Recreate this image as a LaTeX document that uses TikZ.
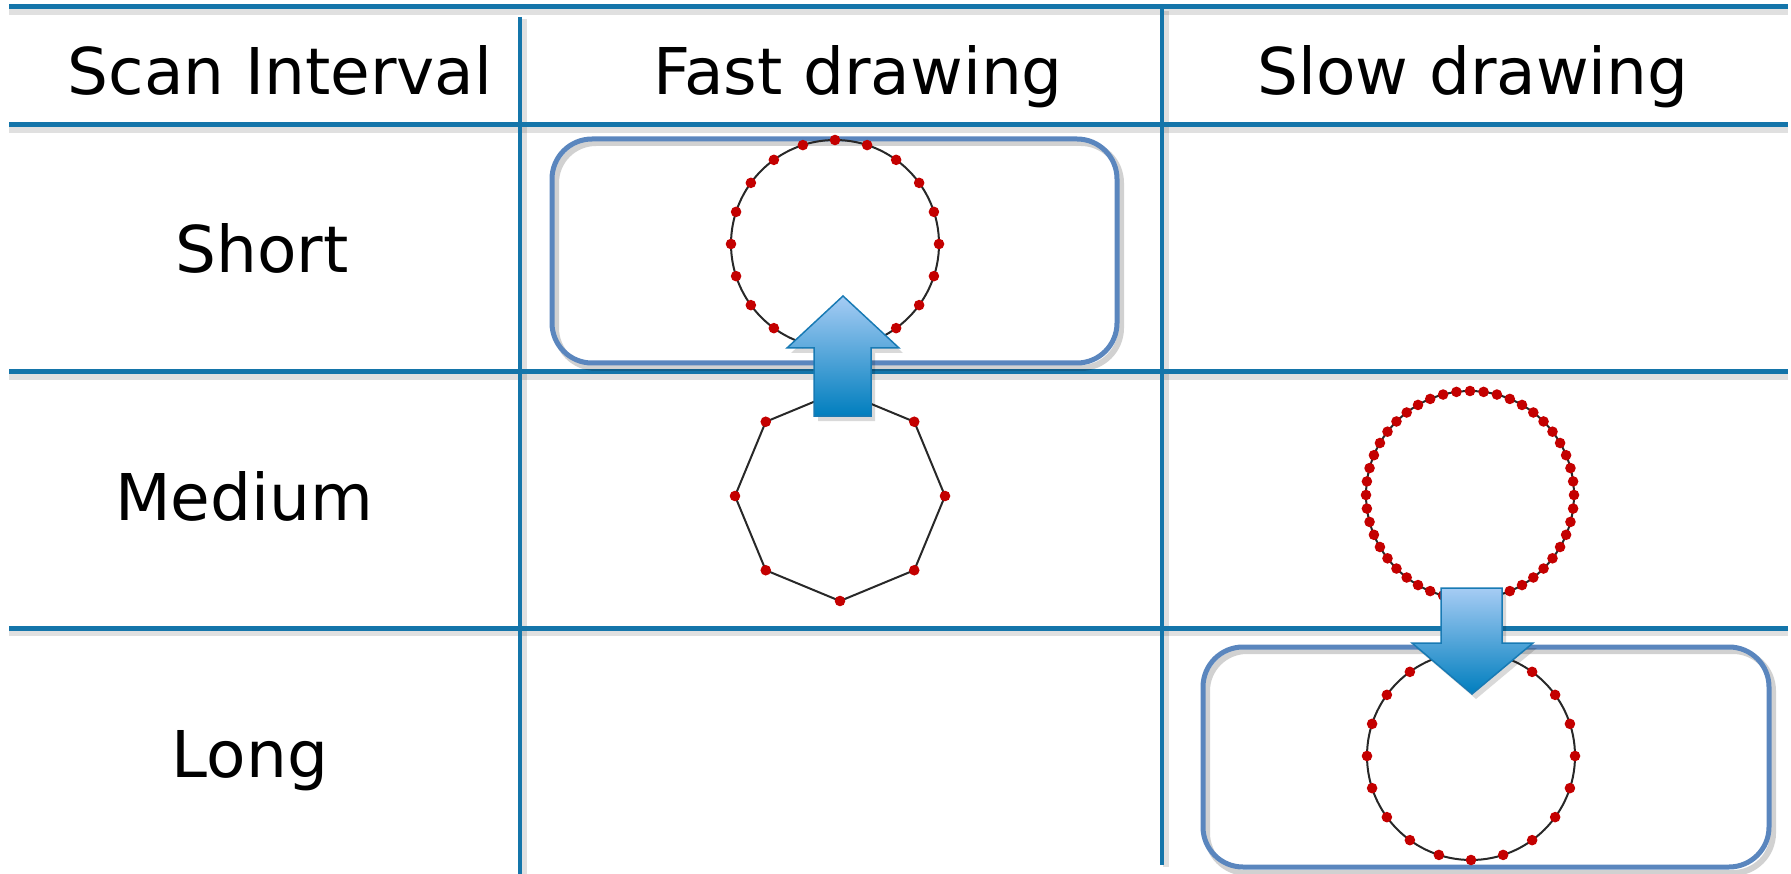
\documentclass[tikz,border=0pt]{standalone}
\usepackage{fontspec}
\setmainfont{DejaVu Sans}
\definecolor{gridblue}{RGB}{20,117,170}
\definecolor{boxblue}{RGB}{90,134,190}
\definecolor{dotred}{RGB}{196,0,0}
\definecolor{arrtop}{RGB}{166,204,244}
\definecolor{arrbot}{RGB}{0,126,190}
\definecolor{arredge}{RGB}{24,122,180}
\definecolor{curve}{RGB}{40,40,40}
\begin{document}
\begin{tikzpicture}[x=1pt,y=-1pt,
  gridline/.style={gridblue, line width=5},
  vline/.style={gridblue, line width=4},
  gridshadow/.style={black, opacity=0.12, line width=6},
  headtext/.style={font=\fontsize{64.5}{70}\selectfont, inner sep=0, anchor=base},
  roundbox/.style={boxblue, line width=5, rounded corners=40},
  boxshadow/.style={black, opacity=0.18, line width=6, rounded corners=40},
  curveline/.style={curve, line width=2},
  dot/.style={fill=dotred},
  bigarrow/.style={draw=arredge, line width=1.5, top color=arrtop, bottom color=arrbot},
  arrowshadow/.style={fill=black, opacity=0.15}]
\useasboundingbox (0,0) rectangle (1791,874);

% grid shadows
\foreach \y in {7,125,372,628} \draw[gridshadow] (9,\y+5) -- (1788,\y+5);
\draw[gridshadow] (524,19) -- (524,874);
\draw[gridshadow] (1166,11) -- (1166,867);

% grid lines
\foreach \y in {7,125,372,628} \draw[gridline] (9,\y) -- (1788,\y);
\draw[vline] (520,17) -- (520,874);
\draw[vline] (1162,9) -- (1162,865);

% texts
\node[headtext] (scan) at (280,95) {Scan Interval};
\node[headtext] (fast) at (858,95) {Fast drawing};
\node[headtext] (slow) at (1473,95) {Slow drawing};
\node[headtext] (short) at (262,273) {Short};
\node[headtext] (medium) at (244,520) {Medium};
\node[headtext] (long) at (250,777) {Long};

% rounded box 1 (fast / short)
\draw[boxshadow] (556,143) rectangle (1121,368);
\draw[roundbox] (552,139) rectangle (1117,363);
% rounded box 2 (slow / long)
\draw[boxshadow] (1207,651) rectangle (1773,873);
\draw[roundbox] (1203,647) rectangle (1769,867);

% circle fast short
\draw[curveline] (835,244) circle (104);
\foreach \a in {0,18,...,342} \fill[dot, shift={(835,244)}] (\a:104) circle (5.3);

% octagon fast medium
\draw[curveline, shift={(840,496)}] (0:105) -- (45:105) -- (90:105) -- (135:105) -- (180:105) -- (225:105) -- (270:105) -- (315:105) -- cycle;
\foreach \a in {0,45,...,315} \fill[dot, shift={(840,496)}] (\a:105) circle (5.3);

% circle slow medium
\draw[curveline] (1470,495) circle (104);
\foreach \a in {0,7.5,...,355} \fill[dot, shift={(1470,495)}] (\a:104) circle (5.3);

% circle slow long
\draw[curveline] (1471,756) circle (104);
\foreach \a in {0,18,...,342} \fill[dot, shift={(1471,756)}] (\a:104) circle (5.3);

% up arrow
\fill[arrowshadow] (818,421) -- (818,353) -- (791,353) -- (847,301) -- (903,353) -- (875,353) -- (875,421) -- cycle;
\path[bigarrow] (814,416) -- (814,348) -- (787,348) -- (843,296) -- (899,348) -- (871,348) -- (871,416) -- cycle;

% down arrow
\fill[arrowshadow] (1445,593) -- (1506,593) -- (1506,648) -- (1537,648) -- (1476,699) -- (1416,648) -- (1445,648) -- cycle;
\path[bigarrow] (1441,588) -- (1502,588) -- (1502,643) -- (1533,643) -- (1472,694) -- (1412,643) -- (1441,643) -- cycle;
\end{tikzpicture}
\end{document}
